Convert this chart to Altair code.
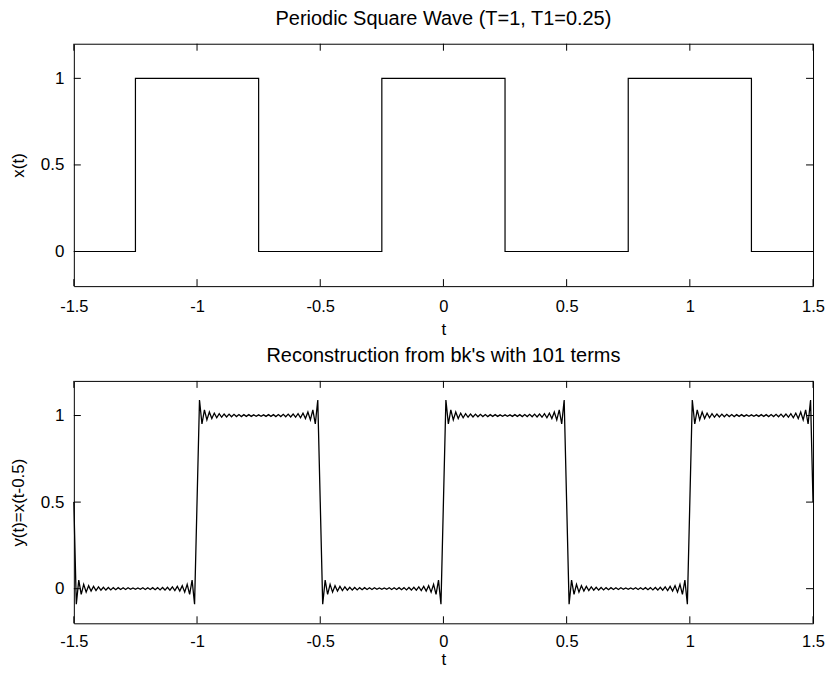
import altair as alt
import pandas as pd

# ---------------- data ----------------
# top panel: periodic square wave, breakpoints (t) and levels (x)
t_top = [-1.5, -1.25, -1.25, -0.75, -0.75, -0.25, -0.25, 0.25, 0.25, 0.75, 0.75, 1.25, 1.25, 1.5]
x_top = [0, 0, 1, 1, 0, 0, 1, 1, 0, 0, 1, 1, 0, 0]

# bottom panel: reconstruction; plateau segments and one "high" plateau profile
seg_start = [-1.5, -1.0, -0.5, 0.0, 0.5, 1.0]
seg_high = [False, True, False, True, False, True]
seg_step = 0.01
plateau_hi = [
    0.500, 1.090, 0.951, 1.033, 0.975, 1.020, 0.983, 1.014, 0.987, 1.011,
    0.990, 1.009, 0.992, 1.008, 0.993, 1.007, 0.994, 1.006, 0.994, 1.005,
    0.995, 1.005, 0.995, 1.004, 0.996, 1.004, 0.996, 1.004, 0.995, 1.005,
    0.995, 1.005, 0.994, 1.006, 0.994, 1.007, 0.993, 1.008, 0.992, 1.009,
    0.990, 1.011, 0.987, 1.014, 0.983, 1.020, 0.975, 1.033, 0.951, 1.090,
    0.500,
]

x_ticks = [-1.5, -1, -0.5, 0, 0.5, 1, 1.5]
y_ticks = [0, 0.5, 1]

title_top = "Periodic Square Wave (T=1, T1=0.25)"
title_bot = "Reconstruction from bk's with 101 terms"

# ---------------- tables ----------------
top_df = pd.DataFrame({"t": t_top, "v": x_top, "i": range(len(t_top))})

rows = []
for s, (start, high) in enumerate(zip(seg_start, seg_high)):
    for k, val in enumerate(plateau_hi):
        if s > 0 and k == 0:
            continue
        rows.append({"t": round(start + k * seg_step, 4), "v": val if high else round(1 - val, 4)})
bot_df = pd.DataFrame(rows)
bot_df["i"] = range(len(bot_df))

W, H = 741, 243
TL = 7
FONT = "Liberation Sans"

xscale = alt.Scale(domain=[-1.5, 1.5], nice=False, zero=False)
yscale = alt.Scale(domain=[-0.2, 1.2], nice=False, zero=False)


def xaxis(lp, tp):
    return alt.Axis(values=x_ticks, title="t", ticks=False, tickSize=0, domain=False, grid=False,
                    labelExpr="datum.value + ''", labelPadding=lp, titlePadding=tp,
                    labelFlush=False, labelOverlap=False, labelFontSize=16.5)


def yaxis(title):
    return alt.Axis(values=y_ticks, title=title, ticks=False, tickSize=0, domain=False, grid=False,
                    labelExpr="datum.value + ''", labelPadding=10, titlePadding=16,
                    minExtent=30, maxExtent=30, labelFlush=False, labelOverlap=False)


def panel(df, ytitle, title, sw, lp, tp):
    xe = alt.X("t:Q", scale=xscale, axis=xaxis(lp, tp))
    ye = alt.Y("v:Q", scale=yscale, axis=yaxis(ytitle))
    line = alt.Chart(df).mark_line(color="black", strokeWidth=sw).encode(x=xe, y=ye, order="i:Q")
    xdf = pd.DataFrame({"t": x_ticks})
    ydf = pd.DataFrame({"v": y_ticks})
    bx = alt.Chart(xdf).mark_rule(color="black", strokeWidth=1)
    by = alt.Chart(ydf).mark_rule(color="black", strokeWidth=1)
    layers = [
        line,
        bx.encode(x=xe, y=alt.value(0), y2=alt.value(TL)),
        bx.encode(x=xe, y=alt.value(H - TL), y2=alt.value(H)),
        by.encode(y=ye, x=alt.value(0), x2=alt.value(TL)),
        by.encode(y=ye, x=alt.value(W - TL), x2=alt.value(W)),
    ]
    return alt.layer(*layers).properties(
        width=W, height=H,
        title=alt.TitleParams(text=title, font=FONT, fontSize=20, fontWeight="normal", color="black",
                              anchor="middle", baseline="alphabetic", offset=-2),
    )


top = panel(top_df, "x(t)", title_top, 1.2, 12, 7)
bot = panel(bot_df, "y(t)=x(t-0.5)", title_bot, 1.3, 10, 2)

chart = alt.vconcat(top, bot, spacing=95, bounds="flush").properties(
    padding={"left": 1, "top": 0, "right": 0, "bottom": 0},
).configure(background="white").configure_view(stroke="black", strokeWidth=1).configure_axis(
    labelFont=FONT, labelFontSize=17, labelColor="black",
    titleFont=FONT, titleFontSize=17, titleFontWeight="normal", titleColor="black",
)

chart.save("out.html", embed_options={"renderer": "svg", "actions": False})
